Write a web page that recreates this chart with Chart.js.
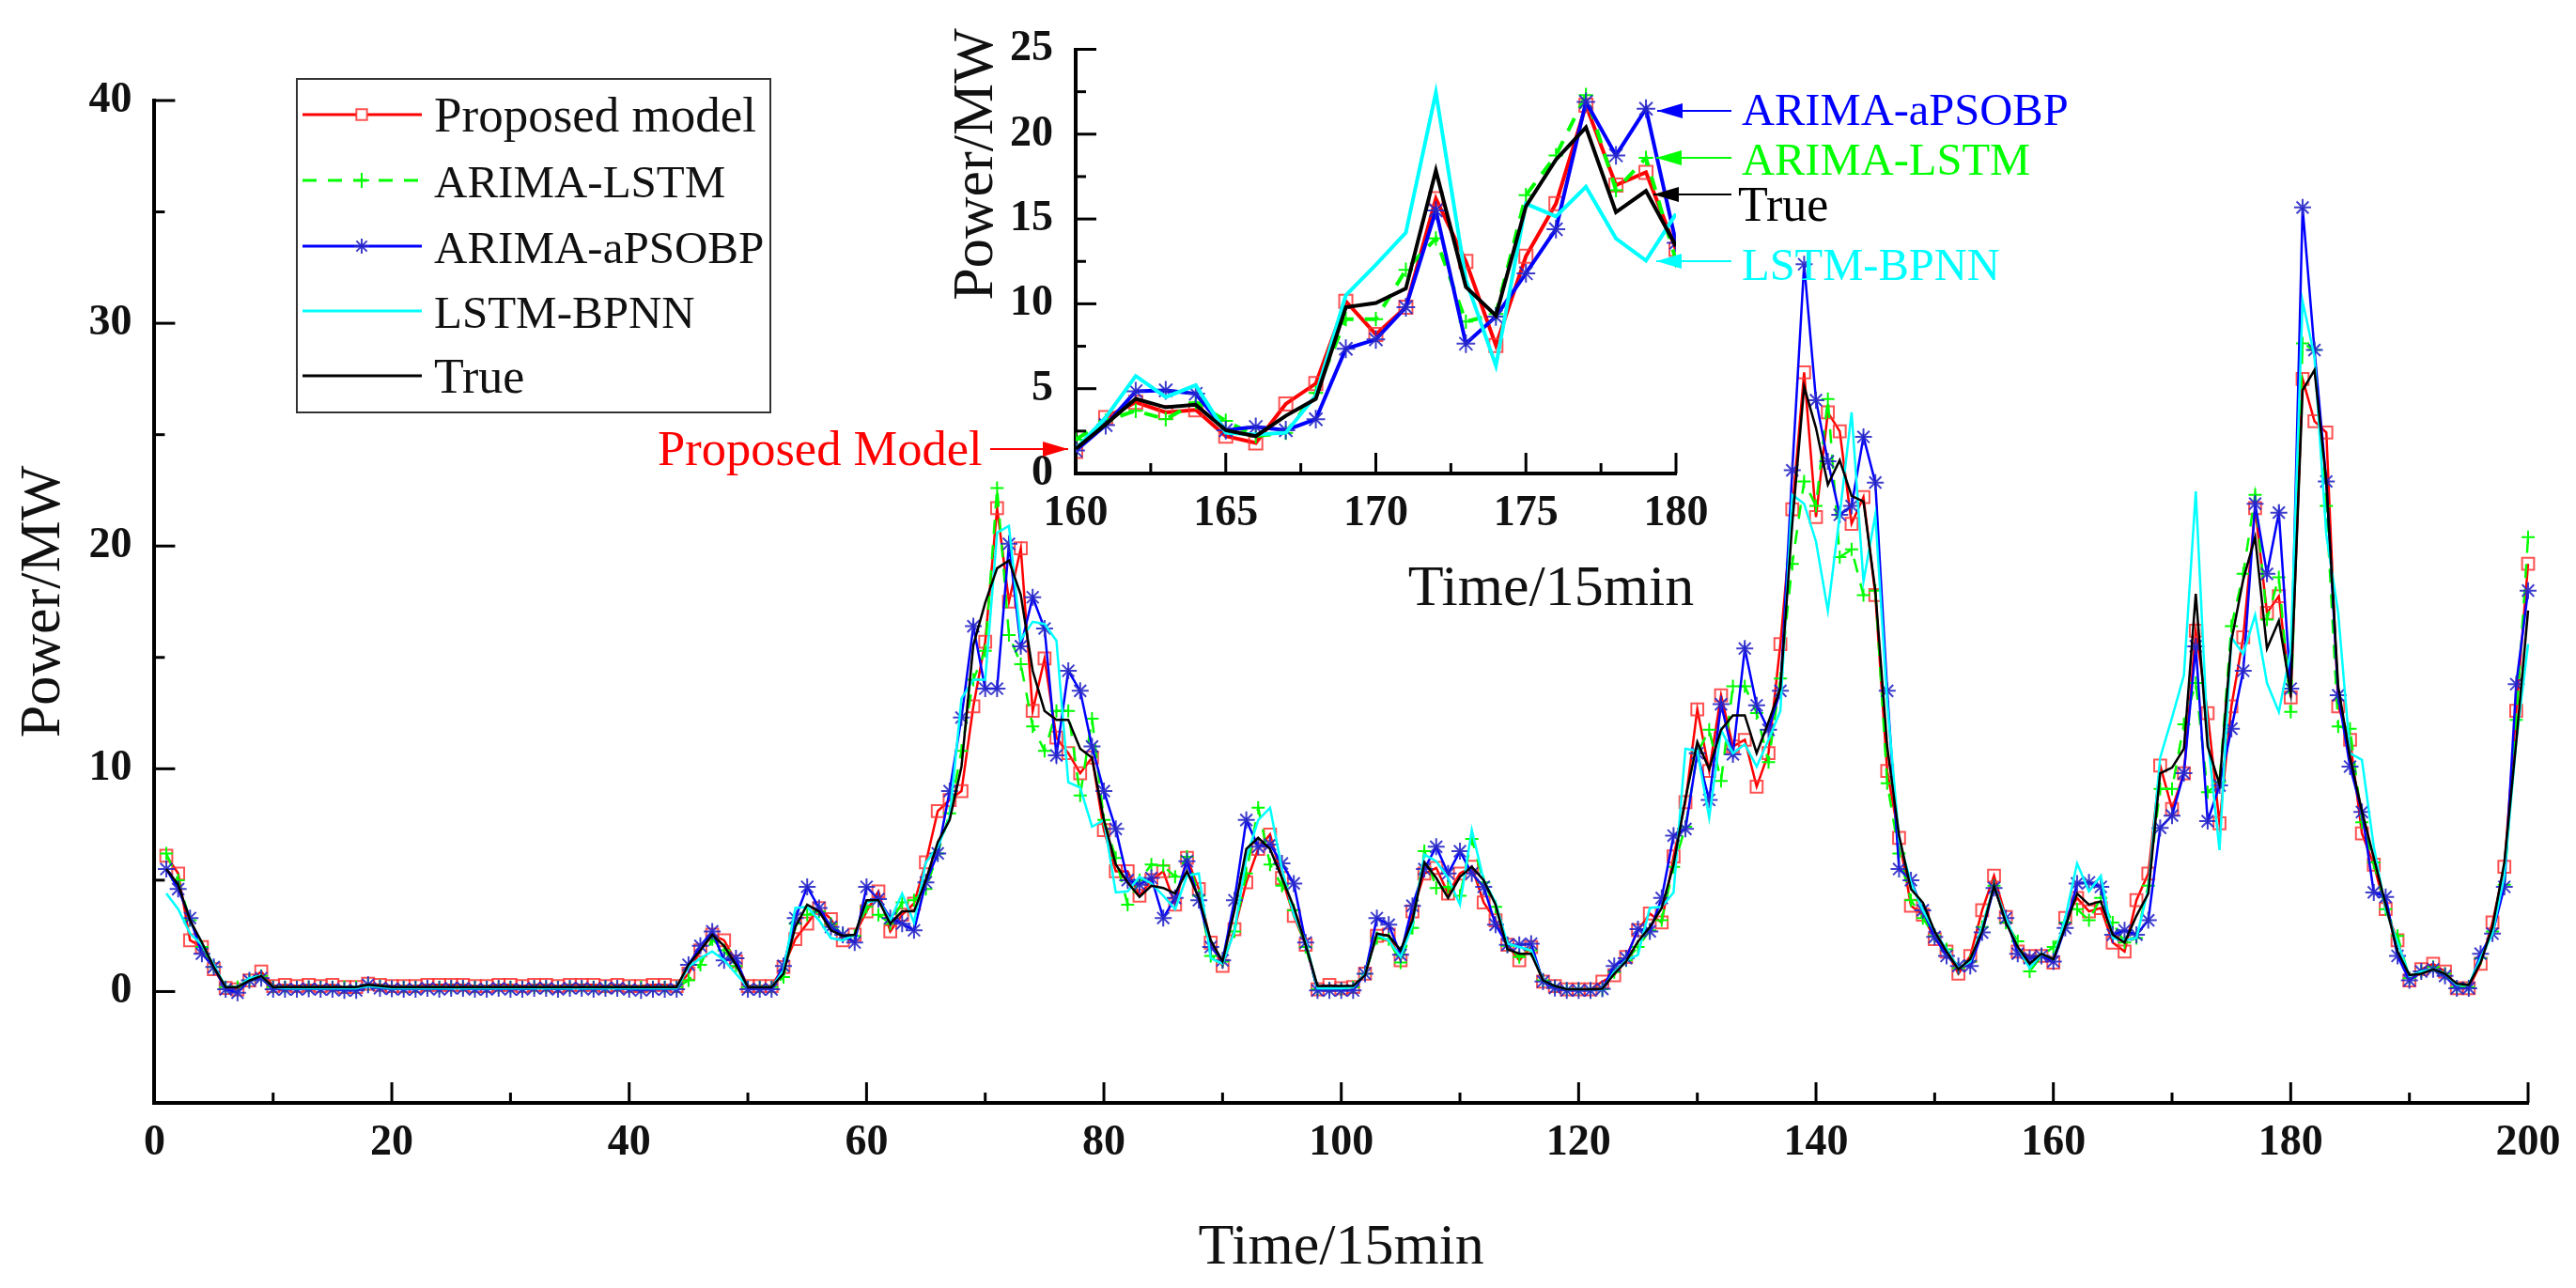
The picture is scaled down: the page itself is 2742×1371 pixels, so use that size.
<!DOCTYPE html>
<html>
<head>
<meta charset="utf-8">
<title>Power forecast</title>
<script src="https://cdn.jsdelivr.net/npm/chart.js@4/dist/chart.umd.js"></script>
<style>
  html, body { margin: 0; padding: 0; background: #fff; }
  #wrap { position: relative; width: 2742px; height: 1371px; overflow: hidden; }
  canvas { position: absolute; left: 0; top: 0; }
</style>
</head>
<body>
<div id="wrap">
  <canvas id="mainChart" width="2742" height="1371"></canvas>
  <canvas id="insetChart" width="2742" height="1371"></canvas>
</div>
<script>
'use strict';

//Values, one per 15min step from 1 to 200
const proposedModel = [
  6.1,5.3,2.3,2.0,1.0,.16,.1,.5,.9,.25,
  .3,.25,.3,.25,.3,.2,.2,.35,.3,.25,
  .25,.25,.3,.3,.3,.3,.25,.25,.3,.3,
  .25,.3,.3,.25,.3,.3,.3,.25,.3,.25,
  .25,.3,.3,.25,.8,1.85,2.55,2.3,1.35,.25,
  .25,.25,1.1,2.35,3.05,3.75,3.25,2.3,2.55,3.6,
  4.5,2.7,3.45,3.95,5.8,8.1,8.6,9.0,12.8,15.7,
  21.7,17.5,19.9,12.6,14.95,11.4,10.7,9.8,10.5,7.25,
  5.4,5.4,4.3,5.0,5.4,3.9,6.0,4.6,2.2,1.15,
  2.8,4.9,6.4,7.05,5.1,3.4,2.1,.1,.3,.15,
  .2,.8,2.5,2.55,1.4,3.6,5.3,5.55,4.4,5.3,
  5.6,4.0,3.2,2.1,1.4,2.0,.45,.25,.1,.1,
  .1,.45,.73,1.55,2.76,3.5,3.1,6.07,8.5,12.67,
  9.9,13.3,11,11.3,9.2,10.7,15.6,21.65,27.8,21.3,
  26,25.15,21,22.2,17.8,9.9,6.9,3.85,3.45,2.35,
  1.8,.8,1.6,3.65,5.2,3.35,1.8,1.6,1.6,1.3,
  3.3,4.2,3.6,3.75,2.2,1.8,4.1,5.3,10.15,8.2,
  9.8,16.2,12.5,7.55,12.8,15.9,21.7,17,17.75,13.2,
  27.5,25.6,25.1,12.8,11.3,7.1,5.7,3.7,2.3,.5,
  1,1.25,.9,.15,.15,1.25,3.1,5.6,12.6,19.2
];
const arimaLstm = [
  6.2,5.0,3.2,2.0,1.1,.2,.2,.5,.7,.2,
  .2,.2,.2,.2,.2,.2,.2,.3,.25,.2,
  .2,.2,.2,.2,.2,.2,.2,.2,.2,.2,
  .2,.2,.2,.2,.2,.2,.2,.2,.2,.2,
  .2,.2,.2,.2,.5,1.2,2.35,1.85,1.15,.2,
  .2,.2,.65,3.05,3.45,3.6,3.05,2.55,2.5,3.8,
  3.45,3.05,4.0,4.1,4.6,6.2,8.0,10.8,14,15.3,
  22.6,16,14.7,11.9,10.8,12.6,12.6,8.8,12.25,7.7,
  6,3.9,5.0,5.7,5.65,5.15,6.05,4.3,1.6,1.35,
  2.7,5.3,8.25,5.7,4.75,3.65,2,.1,.15,.1,
  .2,.8,2.4,2.35,1.3,2.85,6.3,4.65,4.7,4.3,
  6.85,4.9,3.8,2.05,1.55,1.85,.5,.2,.1,.1,
  .1,.1,.87,1.4,2,2.75,3.2,5.6,7.4,10.7,
  11.75,9.45,13.7,13.7,12.5,10.3,14.05,19.2,22.9,21.8,
  26.6,19.5,19.85,17.8,18,9.35,6.2,4.1,3.3,2.5,
  1.9,1.05,1.35,2.9,4.75,3.1,2.25,.9,1.6,2,
  3.1,3.7,3.2,4.2,3.1,2.2,2.4,4.75,9.1,9.1,
  12,13.85,8.95,9.4,16.4,18.75,22.3,16.7,18.6,12.55,
  29.1,28.8,21.8,11.9,11.8,7.6,5.8,3.7,2.5,.6,
  .9,1.1,.8,.2,.2,1.5,2.7,4.8,12.2,20.4
];
const arimaPso = [
  5.5,4.6,3.3,1.7,1.1,.1,-.05,.5,.6,.1,
  .1,.1,.12,.1,.1,.05,.05,.3,.15,.12,
  .1,.1,.15,.1,.15,.15,.1,.1,.15,.1,
  .1,.15,.15,.1,.15,.15,.1,.15,.15,.1,
  .05,.1,.1,.1,1.2,2.05,2.7,1.4,1.5,.1,
  .1,.1,1.15,3.3,4.7,3.75,2.9,2.55,2.2,4.7,
  4.15,3.3,3.05,2.75,4.9,6.2,9,12.3,16.4,13.6,
  13.6,20.1,15.5,17.7,16.3,10.6,14.4,13.5,11,9,
  7.3,5,4.8,5.1,3.3,4.2,5.85,4.1,2,1.4,
  4.1,7.7,6.5,6.6,5.75,4.85,2.2,.05,.05,.05,
  .05,.8,3.3,3,1.65,3.85,5.5,6.5,5.3,6.3,
  5.3,4.7,3,2.1,2.1,2.15,.45,.16,.05,.05,
  .05,.12,1.15,1.5,2.8,2.7,4.2,7,7.3,10.7,
  8.6,12.9,10.65,15.4,12.85,11.75,13.5,23.4,32.65,26.55,
  23.8,21.4,21.8,24.9,22.85,13.5,5.5,5,3.65,2.45,
  1.6,1.15,1.15,2.65,4.65,3.3,1.7,1.5,1.6,1.35,
  2.85,4.85,4.9,4.7,2.55,2.75,2.55,3.2,7.35,7.9,
  9.8,15.5,7.65,9.25,11.8,14.4,21.9,18.75,21.5,13.6,
  35.2,28.8,22.9,13.3,10.1,8.06,4.45,4.25,1.6,.5,
  .9,1,.7,.15,.15,1.7,2.6,4.7,13.8,18
];
const lstmBpnn = [
  4.4,3.7,2.6,2.1,1.2,.2,.2,.6,.7,.2,
  .15,.15,.15,.15,.15,.15,.15,.25,.2,.15,
  .15,.15,.15,.15,.15,.15,.15,.15,.15,.15,
  .15,.15,.15,.15,.15,.15,.15,.15,.15,.15,
  .15,.15,.15,.15,1.1,1.5,1.8,1.4,.8,.2,
  .2,.2,.95,3.75,3.8,3.2,2.4,2.3,2.55,4.0,
  4.1,3.2,4.4,3.1,5.8,6.5,7.8,13.15,14,14,
  20.6,20.9,15.8,16.6,16.5,15.75,9.4,9.15,7.4,7.7,
  4.45,4.5,5.15,4.85,4.3,3.7,5.2,5.3,1.5,1.25,
  2.7,6,7.7,8.25,5.5,3.45,2.25,.15,.15,.15,
  .2,.8,2.55,2.3,1.55,3,6.15,5.85,5.1,3.9,
  7.25,5,4,2.15,2,1.85,.5,.25,.1,.1,
  .1,.1,.87,1.4,1.65,3.75,3.8,4.45,10.9,10.8,
  7.8,11.75,10.7,11.1,10.1,11.3,12.6,22.3,21.9,20.2,
  17.1,21.4,26,18.4,21.4,13,6.8,4.9,3.65,2.7,
  1.9,1.05,1.35,2.9,4.75,3.3,2,1.05,1.7,1.45,
  3.3,5.75,4.5,5.2,2.4,2.3,2.4,4.6,10.5,12.3,
  14.2,22.45,11.4,6.35,15.9,15.15,16.9,13.85,12.55,15.3,
  31,28.5,20.5,17,10.7,10.4,6.5,3.7,2.2,.7,
  .9,1,.8,.3,.3,1.5,2.6,5.2,11.2,15.6
];
const truePower = [
  5.5,4.8,3.2,2.2,1.1,.2,.2,.5,.7,.2,
  .2,.2,.2,.2,.2,.2,.2,.3,.25,.2,
  .2,.2,.2,.2,.2,.2,.2,.2,.2,.2,
  .2,.2,.2,.2,.2,.2,.2,.2,.2,.2,
  .2,.2,.2,.2,1.2,1.85,2.55,2.05,1.2,.2,
  .2,.2,.8,2.9,3.9,3.6,2.75,2.5,2.55,4.1,
  4.1,3.05,3.6,3.6,5.0,6.7,7.7,10.1,15.55,17.45,
  19.0,19.35,17.8,14.4,12.6,12.2,12.2,10.9,10.5,7.7,
  5.7,4.9,4.25,4.75,4.65,4.4,5.4,4.2,2.3,1.35,
  3.65,6.4,6.9,6.4,5.1,3.8,2.1,.25,.25,.25,
  .25,.73,2.6,2.5,1.85,3.2,5.8,5.1,4.2,5.15,
  5.6,5.0,3.9,1.9,1.7,1.7,.5,.25,.1,.1,
  .1,.12,.8,1.35,2.25,2.9,3.75,5.7,8.67,11.2,
  10,11.75,12.4,12.4,10.7,12.1,13.6,21,27.15,25.3,
  22.75,23.85,22.25,22,18,11,7,4.6,4,2.7,
  1.8,1,1.45,2.7,4.75,3.1,2,1.25,1.7,1.45,
  2.9,4.4,3.9,4.05,2.55,2.2,3.4,4.4,9.8,10.05,
  10.9,17.85,11,9.3,15.75,18.5,20.4,15.4,16.65,13.4,
  27,27.9,22.9,13.7,10.5,8.1,6,3.9,1.8,.74,
  .8,1,.8,.35,.3,1.3,2.9,5.8,11.2,17.1
];
const timeSteps = proposedModel.map((v, i) => i + 1);

//Tick labels for both plots
const mainXTicks = [0, 20, 40, 60, 80, 100, 120, 140, 160, 180, 200];
const mainYTicks = [0, 10, 20, 30, 40];
const insetXTicks = [160, 165, 170, 175, 180];
const insetYTicks = [0, 5, 10, 15, 20, 25];

const SERIF = '"Liberation Serif", serif';
const RED = '#ff0000';
const GREEN = '#00ff00';
const BLUE = '#0000ff';
const CYAN = '#00ffff';
const BLACK = '#000000';
const SQUARE_RED = 'rgba(255,50,50,0.85)';
const STAR_BLUE = 'rgba(40,40,200,0.9)';

//One list per line, the inset only takes steps 160 to 180
function buildDatasets(first, last, lineWidth, markerScale){
  let pick = values => values.slice(first - 1, last);
  return [
    {label: 'Proposed model', data: pick(proposedModel), order: 4, borderColor: RED, borderWidth: lineWidth,
      pointStyle: 'rect', pointRadius: 9 * markerScale, pointBorderColor: SQUARE_RED, pointBorderWidth: 2,
      pointBackgroundColor: 'transparent', legendSize: 53},
    {label: 'ARIMA-LSTM', data: pick(arimaLstm), order: 3, borderColor: GREEN, borderWidth: lineWidth,
      borderDash: [15, 12], pointStyle: 'cross', pointRadius: 7 * markerScale, pointBorderColor: GREEN,
      pointBorderWidth: 2, legendSize: 49},
    {label: 'ARIMA-aPSOBP', data: pick(arimaPso), order: 2, borderColor: BLUE, borderWidth: lineWidth,
      pointStyle: 'star', pointRadius: 9 * markerScale, pointBorderColor: STAR_BLUE, pointBorderWidth: 2,
      legendSize: 49},
    {label: 'LSTM-BPNN', data: pick(lstmBpnn), order: 1, borderColor: CYAN, borderWidth: lineWidth,
      pointRadius: 0, legendSize: 49},
    {label: 'True', data: pick(truePower), order: 0, borderColor: BLACK, borderWidth: lineWidth,
      pointRadius: 0, legendSize: 52}
  ];
}

//Chart.js only draws ticks outwards, these point into the plot
const inwardTicks = {
  id: 'inwardTicks',
  afterDraw(chart, args, opts){
    let ctx = chart.ctx;
    let {x, y} = chart.scales;
    let bottom = chart.chartArea.bottom;
    let left = chart.chartArea.left;
    ctx.save();
    ctx.strokeStyle = '#000';
    ctx.lineWidth = 3;
    for(let v = x.min; v <= x.max; v += opts.minorX){
      let len = x.ticks.some(t => t.value === v) ? 22 : 11;
      ctx.beginPath();
      ctx.moveTo(x.getPixelForValue(v), bottom);
      ctx.lineTo(x.getPixelForValue(v), bottom - len);
      ctx.stroke();
    }
    for(let v = y.min; v <= y.max; v += opts.minorY){
      let len = y.ticks.some(t => t.value === v) ? 22 : 11;
      ctx.beginPath();
      ctx.moveTo(left, y.getPixelForValue(v));
      ctx.lineTo(left + len, y.getPixelForValue(v));
      ctx.stroke();
    }
    ctx.restore();
  }
};

//Legend box in the upper left of the main plot
const legendBox = {
  id: 'legendBox',
  afterDraw(chart){
    let ctx = chart.ctx;
    let rows = [122, 192, 262, 331, 400];
    ctx.save();
    ctx.fillStyle = '#fff';
    ctx.strokeStyle = '#333';
    ctx.lineWidth = 2;
    ctx.fillRect(316, 84, 504, 355);
    ctx.strokeRect(316, 84, 504, 355);
    ctx.textBaseline = 'alphabetic';
    chart.data.datasets.forEach((ds, i) => {
      ctx.save();
      ctx.strokeStyle = ds.borderColor;
      ctx.lineWidth = 3;
      ctx.setLineDash(ds.borderDash || []);
      ctx.beginPath();
      ctx.moveTo(322, rows[i]);
      ctx.lineTo(449, rows[i]);
      ctx.stroke();
      ctx.restore();
      if(ds.pointRadius > 0){
        ctx.strokeStyle = ds.pointBorderColor;
        ctx.fillStyle = '#fff';
        ctx.lineWidth = ds.pointBorderWidth;
        Chart.helpers.drawPoint(ctx, {pointStyle: ds.pointStyle, radius: 8, rotation: 0,
          borderWidth: ds.pointBorderWidth}, 385, rows[i]);
      }
      ctx.fillStyle = '#111';
      ctx.font = ds.legendSize + 'px ' + SERIF;
      ctx.fillText(ds.label, 462, rows[i] + 18);
    });
    ctx.restore();
  }
};

//Inset axis titles and the arrows that name each line
const insetNotes = {
  id: 'insetNotes',
  afterDraw(chart){
    let ctx = chart.ctx;
    ctx.save();
    ctx.fillStyle = '#111';
    ctx.font = '62px ' + SERIF;
    ctx.textAlign = 'center';
    ctx.textBaseline = 'alphabetic';
    ctx.fillText('Time/15min', 1651, 644);
    ctx.save();
    ctx.translate(1056, 175);
    ctx.rotate(-Math.PI / 2);
    ctx.fillText('Power/MW', 0, 0);
    ctx.restore();

    ctx.textAlign = 'left';
    let notes = [
      {text: 'Proposed Model', size: 52.5, color: RED, textX: 700, textY: 495, tail: 1054, tip: 1137, lineY: 478},
      {text: 'ARIMA-aPSOBP', size: 48.5, color: BLUE, textX: 1854, textY: 133, tail: 1843, tip: 1764, lineY: 118},
      {text: 'ARIMA-LSTM', size: 48.5, color: GREEN, textX: 1854, textY: 186, tail: 1843, tip: 1763, lineY: 168},
      {text: 'True', size: 52, color: BLACK, textX: 1850, textY: 235, tail: 1843, tip: 1760, lineY: 207},
      {text: 'LSTM-BPNN', size: 48.5, color: CYAN, textX: 1854, textY: 298, tail: 1843, tip: 1763, lineY: 278}
    ];
    notes.forEach(n => {
      let dir = n.tip > n.tail ? -1 : 1;
      ctx.font = n.size + 'px ' + SERIF;
      ctx.fillStyle = n.color;
      ctx.strokeStyle = n.color;
      ctx.fillText(n.text, n.textX, n.textY);
      ctx.lineWidth = 2;
      ctx.beginPath();
      ctx.moveTo(n.tail, n.lineY);
      ctx.lineTo(n.tip, n.lineY);
      ctx.stroke();
      ctx.beginPath();
      ctx.moveTo(n.tip, n.lineY);
      ctx.lineTo(n.tip + dir * 27, n.lineY - 8);
      ctx.lineTo(n.tip + dir * 27, n.lineY + 8);
      ctx.closePath();
      ctx.fill();
    });
    ctx.restore();
  }
};

function axisOptions(tickList, tickPadding, extra){
  return Object.assign({
    type: 'linear',
    grid: {display: false, tickLength: 0},
    border: {display: true, color: '#000', width: 4},
    afterBuildTicks: scale => { scale.ticks = tickList.map(v => ({value: v})); },
    ticks: {
      autoSkip: false,
      maxRotation: 0,
      padding: tickPadding,
      color: '#111',
      font: {family: SERIF, size: 46, weight: 'bold'}
    }
  }, extra);
}

function axisTitle(text, paddingBox){
  return {display: true, text: text, color: '#111', padding: paddingBox,
    font: {family: SERIF, size: 62, weight: 'normal'}};
}

function baseOptions(minorX, minorY, extra){
  return Object.assign({
    responsive: false,
    devicePixelRatio: 1,
    animation: false,
    elements: {line: {tension: 0}},
    plugins: {
      legend: {display: false},
      tooltip: {enabled: false},
      inwardTicks: {minorX: minorX, minorY: minorY}
    }
  }, extra);
}

new Chart(document.getElementById('mainChart').getContext('2d'), {
  type: 'line',
  plugins: [inwardTicks, legendBox],
  data: {labels: timeSteps, datasets: buildDatasets(1, 200, 2.5, 1).map(ds => Object.assign(ds, {clip: false}))},
  options: baseOptions(10, 5, {
    layout: {padding: {left: 0, top: 107, right: 51, bottom: 0}},
    scales: {
      x: axisOptions(mainXTicks, 16, {
        min: 0, max: 200,
        title: axisTitle('Time/15min', {top: 0, bottom: 5}),
        afterFit: s => { s.height = 197; }
      }),
      y: axisOptions(mainYTicks, 24, {
        min: -5, max: 40,
        title: axisTitle('Power/MW', {top: 10, bottom: 0}),
        afterFit: s => { s.width = 164.4; }
      })
    }
  })
});

new Chart(document.getElementById('insetChart').getContext('2d'), {
  type: 'line',
  plugins: [inwardTicks, insetNotes],
  data: {labels: timeSteps.slice(159, 180), datasets: buildDatasets(160, 180, 4, 1.1)},
  options: baseOptions(2.5, 2.5, {
    layout: {padding: {left: 0, top: 52.5, right: 958, bottom: 0}},
    scales: {
      x: axisOptions(insetXTicks, 16, {
        min: 160, max: 180,
        afterFit: s => { s.height = 867; }
      }),
      y: axisOptions(insetYTicks, 24, {
        min: 0, max: 25,
        afterFit: s => { s.width = 1145; }
      })
    }
  })
});
</script>
</body>
</html>
